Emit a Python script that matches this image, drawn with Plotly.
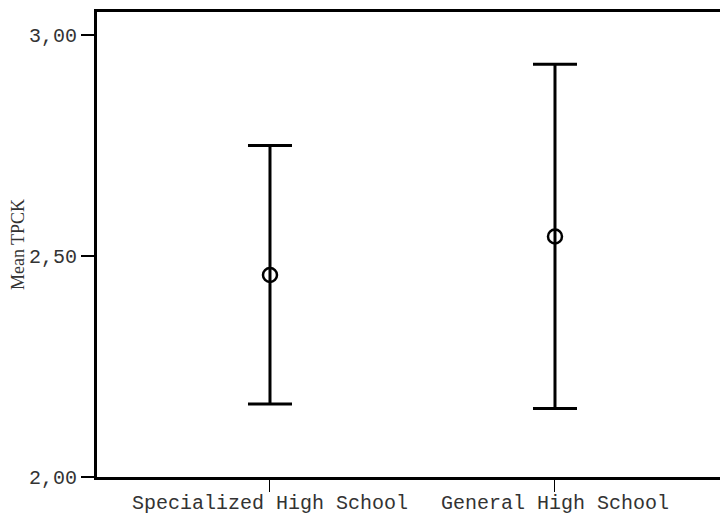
import plotly.graph_objects as go

categories = ["Specialized High School", "General High School"]
means = [2.457, 2.544]
upper = [2.75, 2.934]
lower = [2.165, 2.155]
ytick_vals = [2.0, 2.5, 3.0]
ytick_text = ["2,00", "2,50", "3,00"]

fig = go.Figure()
fig.add_trace(go.Scatter(
    x=[0, 1], y=means, mode="markers",
    marker=dict(symbol="circle-open", size=14, color="black", line=dict(width=2.5, color="black")),
    error_y=dict(type="data", symmetric=False,
                 array=[u - m for u, m in zip(upper, means)],
                 arrayminus=[m - l for m, l in zip(means, lower)],
                 color="black", thickness=3, width=22),
    showlegend=False,
))

mono = "Courier New, Liberation Mono, monospace"
fig.update_layout(
    width=720, height=515,
    margin=dict(l=97, r=0, t=12, b=38, autoexpand=False),
    paper_bgcolor="white", plot_bgcolor="white",
    xaxis=dict(
        range=[-0.607, 1.579], tickvals=[0, 1], ticktext=categories,
        showgrid=False, zeroline=False, automargin=False,
        showline=True, linecolor="black", linewidth=3, mirror=True,
        ticks="outside", ticklen=12, tickwidth=1, tickcolor="black",
        ticklabelstandoff=-7,
        tickfont=dict(family=mono, size=20, color="#333"),
    ),
    yaxis=dict(
        range=[2.0, 3.052], tickvals=ytick_vals, ticktext=ytick_text,
        showgrid=False, zeroline=False, automargin=False,
        showline=True, linecolor="black", linewidth=3, mirror=False,
        ticks="outside", ticklen=13, tickwidth=1.5, tickcolor="black",
        tickfont=dict(family=mono, size=20, color="#333"),
        title=dict(text="Mean TPCK", standoff=0,
                   font=dict(family="Liberation Serif, Times New Roman, serif", size=18, color="#333")),
    ),
)

fig.write_html("out.html", config={"displayModeBar": False},
               post_script="document.body.style.margin='0';")
